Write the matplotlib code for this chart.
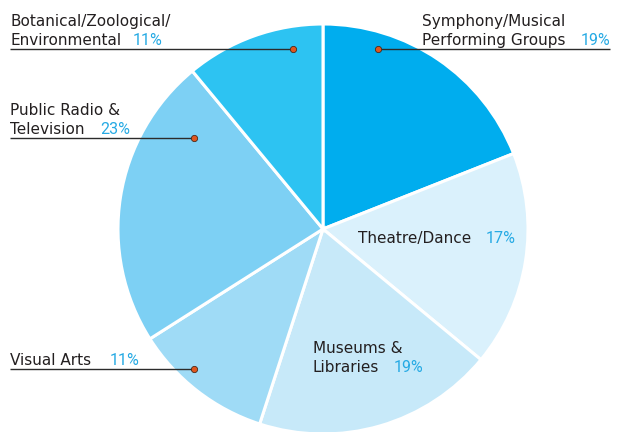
import matplotlib
matplotlib.use("Agg")
import matplotlib.pyplot as plt

# giving by sector, clockwise from twelve o'clock
sectors = ["Symphony/Musical\nPerforming Groups", "Theatre/Dance", "Museums &\nLibraries",
           "Visual Arts", "Public Radio &\nTelevision", "Botanical/Zoological/\nEnvironmental"]
shares = [19, 17, 19, 11, 23, 11]
colors = ["#00adee", "#daf1fc", "#c7e9f9", "#9fdbf6", "#7dd0f4", "#2dc3f2"]

W, H = 619, 432
fig = plt.figure(figsize=(W / 100, H / 100), dpi=100)
ax = fig.add_axes([0, 0, 1, 1])

plt.rcParams["font.family"] = ["DejaVu Sans"]
TXT = "#231f20"
PCT = "#26aae4"
FS = 11

cx, cy, r = 323, H - 229, 205
ax.pie(shares, colors=colors, startangle=90, counterclock=False, center=(cx, cy), radius=r,
       wedgeprops=dict(edgecolor="white", linewidth=2.2), frame=True)
ax.set_xlim(0, W)
ax.set_ylim(0, H)
ax.set_aspect("equal")
ax.axis("off")

# label layout (pixels, y from top): name x, first baseline, pct x, leader y, dot x, line end x
layout = [
    (422, 26, 581, 49, 378, 610),
    (358, 243, 486, None, None, None),
    (313, 353, 394, None, None, None),
    (10, 365, 110, 369, 194, 10),
    (10, 115, 100, 138, 194, 10),
    (10, 26, 133, 49, 293, 10),
]
LH = 19
for name, pct, (tx, ty, px, ly, dx, lx) in zip(sectors, shares, layout):
    lines = name.split("\n")
    for i, ln in enumerate(lines):
        ax.text(tx, H - (ty + i * LH), ln, fontsize=FS, color=TXT, va="baseline", ha="left")
    ax.text(px, H - (ty + (len(lines) - 1) * LH), f"{pct}%", fontsize=11.5, color=PCT,
            va="baseline", ha="left", family="Roboto")
    if ly is not None:
        ax.plot([lx, dx], [H - ly, H - ly], color="#2b2b2b", lw=1.0, solid_capstyle="butt")
        ax.plot(dx, H - ly, "o", ms=4.5, mfc="#e0561e", mec="#4a2a1a", mew=0.6)

fig.savefig("out.png", dpi=100)
